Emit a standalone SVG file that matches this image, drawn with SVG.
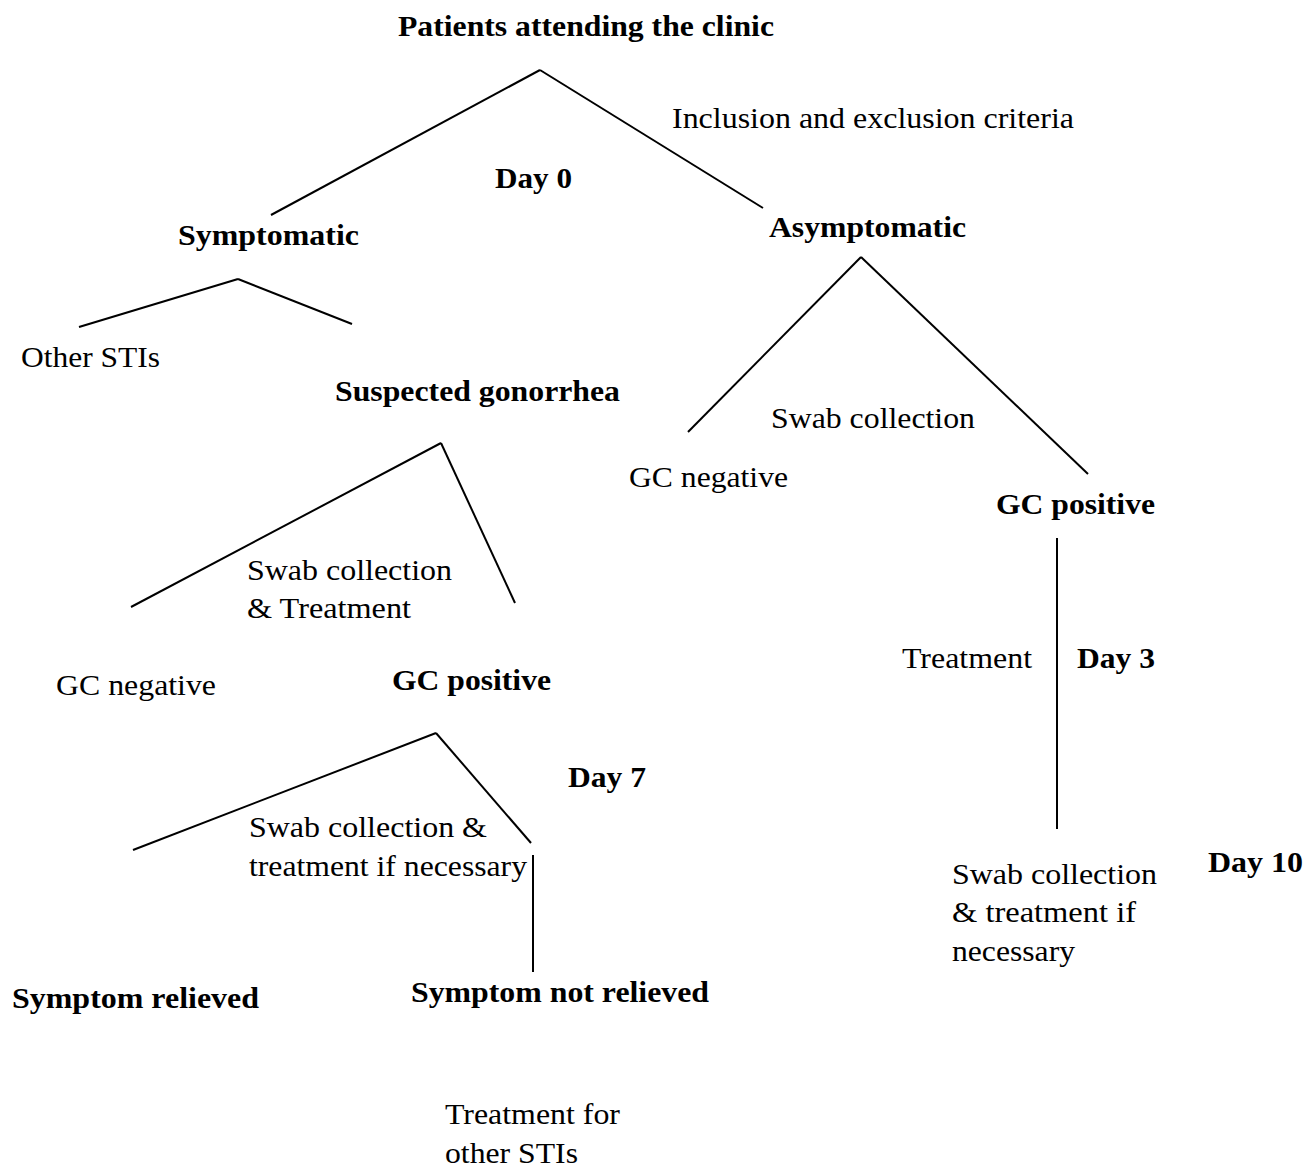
<svg xmlns="http://www.w3.org/2000/svg" width="1305" height="1171" viewBox="0 0 1305 1171">
<style>
text{font-family:'Liberation Serif','Times New Roman','DejaVu Serif',serif;font-size:30px;fill:#000}
.b{font-weight:bold}
line{stroke:#000;stroke-width:2;fill:none}
</style>
<rect width="1305" height="1171" fill="#fff"/>
<g id="connectors">
<line x1="540" y1="70" x2="271" y2="215"/>
<line x1="540" y1="70" x2="763" y2="208"/>
<line x1="238" y1="279" x2="79" y2="327"/>
<line x1="238" y1="279" x2="352" y2="324"/>
<line x1="441" y1="443" x2="131" y2="607"/>
<line x1="441" y1="443" x2="515" y2="603"/>
<line x1="436" y1="733" x2="133" y2="850"/>
<line x1="436" y1="733" x2="531" y2="843"/>
<line x1="533" y1="855" x2="533" y2="972"/>
<line x1="861" y1="257" x2="688" y2="432"/>
<line x1="861" y1="257" x2="1088" y2="474"/>
<line x1="1057" y1="538" x2="1057" y2="829"/>
</g>
<g id="n-patients"><text class="b" x="398" y="36" textLength="376" lengthAdjust="spacingAndGlyphs">Patients attending the clinic</text></g>
<g id="l-inclusion"><text x="672" y="128" textLength="402" lengthAdjust="spacingAndGlyphs">Inclusion and exclusion criteria</text></g>
<g id="l-day0"><text class="b" x="495" y="188" textLength="77" lengthAdjust="spacingAndGlyphs">Day 0</text></g>
<g id="n-symptomatic"><text class="b" x="178" y="245" textLength="181" lengthAdjust="spacingAndGlyphs">Symptomatic</text></g>
<g id="n-asymptomatic"><text class="b" x="769" y="237" textLength="197" lengthAdjust="spacingAndGlyphs">Asymptomatic</text></g>
<g id="n-otherstis"><text x="21" y="367" textLength="139" lengthAdjust="spacingAndGlyphs">Other STIs</text></g>
<g id="n-suspected"><text class="b" x="335" y="401" textLength="285" lengthAdjust="spacingAndGlyphs">Suspected gonorrhea</text></g>
<g id="l-swab1"><text x="247" y="580" textLength="205" lengthAdjust="spacingAndGlyphs">Swab collection</text><text x="247" y="618" textLength="164" lengthAdjust="spacingAndGlyphs">&amp; Treatment</text></g>
<g id="n-gcneg1"><text x="56" y="695" textLength="160" lengthAdjust="spacingAndGlyphs">GC negative</text></g>
<g id="n-gcpos1"><text class="b" x="392" y="690" textLength="159" lengthAdjust="spacingAndGlyphs">GC positive</text></g>
<g id="l-day7"><text class="b" x="568" y="787" textLength="78" lengthAdjust="spacingAndGlyphs">Day 7</text></g>
<g id="l-swab2"><text x="249" y="837" textLength="238" lengthAdjust="spacingAndGlyphs">Swab collection &amp;</text><text x="249" y="876" textLength="278" lengthAdjust="spacingAndGlyphs">treatment if necessary</text></g>
<g id="n-relieved"><text class="b" x="12" y="1008" textLength="247" lengthAdjust="spacingAndGlyphs">Symptom relieved</text></g>
<g id="n-notrelieved"><text class="b" x="411" y="1002" textLength="298" lengthAdjust="spacingAndGlyphs">Symptom not relieved</text></g>
<g id="n-treatother"><text x="445" y="1124" textLength="175" lengthAdjust="spacingAndGlyphs">Treatment for</text><text x="445" y="1163" textLength="133" lengthAdjust="spacingAndGlyphs">other STIs</text></g>
<g id="l-swab3"><text x="771" y="428" textLength="204" lengthAdjust="spacingAndGlyphs">Swab collection</text></g>
<g id="n-gcneg2"><text x="629" y="487" textLength="159" lengthAdjust="spacingAndGlyphs">GC negative</text></g>
<g id="n-gcpos2"><text class="b" x="996" y="514" textLength="159" lengthAdjust="spacingAndGlyphs">GC positive</text></g>
<g id="l-treatment"><text x="902" y="668" textLength="130" lengthAdjust="spacingAndGlyphs">Treatment</text></g>
<g id="l-day3"><text class="b" x="1077" y="668" textLength="78" lengthAdjust="spacingAndGlyphs">Day 3</text></g>
<g id="n-swab4"><text x="952" y="884" textLength="205" lengthAdjust="spacingAndGlyphs">Swab collection</text><text x="952" y="922" textLength="184" lengthAdjust="spacingAndGlyphs">&amp; treatment if</text><text x="952" y="961" textLength="123" lengthAdjust="spacingAndGlyphs">necessary</text></g>
<g id="l-day10"><text class="b" x="1208" y="872" textLength="95" lengthAdjust="spacingAndGlyphs">Day 10</text></g>
</svg>
